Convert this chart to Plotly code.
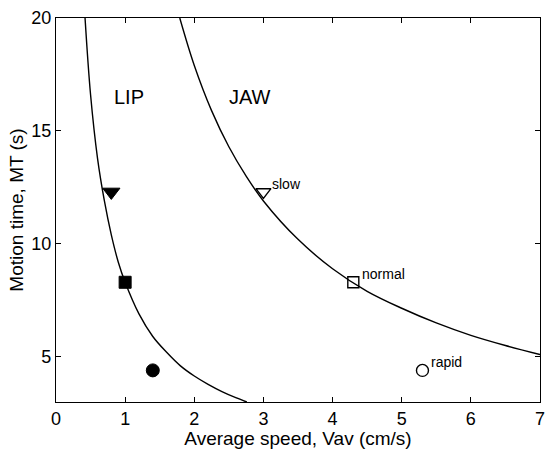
import plotly.graph_objects as go

# Curve points
lip_x = [0.42, 0.5, 0.6, 0.7, 0.8, 0.9, 1.0, 1.2, 1.4, 1.6, 1.8, 2.0, 2.2, 2.4, 2.6, 2.76]
lip_y = [20.0, 16.6, 13.8, 11.9, 10.4, 9.2, 8.3, 6.9, 5.9, 5.2, 4.6, 4.15, 3.78, 3.46, 3.19, 3.0]
jaw_x = [1.79, 2.0, 2.25, 2.5, 2.75, 3.0, 3.5, 4.0, 4.5, 5.0, 5.5, 6.0, 6.5, 7.0]
jaw_y = [20.0, 17.9, 15.9, 14.3, 13.0, 11.9, 10.2, 8.9, 7.9, 7.15, 6.5, 5.95, 5.5, 5.1]

# Measured points
lip_pts_x = [0.8, 1.0, 1.4]
lip_pts_y = [12.3, 8.3, 4.4]
jaw_pts_x = [3.0, 4.3, 5.3]
jaw_pts_y = [12.3, 8.3, 4.4]
pt_labels = ["slow", "normal", "rapid"]

x_ticks = [0, 1, 2, 3, 4, 5, 6, 7]
y_ticks = [5, 10, 15, 20]

font = "Liberation Sans, Arial, sans-serif"
BLACK = "#000000"

fig = go.Figure()
fig.add_trace(go.Scatter(x=lip_x, y=lip_y, mode="lines", line=dict(color=BLACK, width=1.4, shape="spline")))
fig.add_trace(go.Scatter(x=jaw_x, y=jaw_y, mode="lines", line=dict(color=BLACK, width=1.4, shape="spline")))

fig.add_trace(go.Scatter(x=lip_pts_x, y=lip_pts_y, mode="markers",
                         marker=dict(symbol=["triangle-down", "square", "circle"], size=[15, 12, 13],
                                     color=BLACK, opacity=1, line=dict(width=1, color=BLACK))))
fig.add_trace(go.Scatter(x=jaw_pts_x, y=jaw_pts_y, mode="markers",
                         marker=dict(symbol=["triangle-down-open", "square-open", "circle-open"], size=[13, 11, 12],
                                     color=BLACK, opacity=1, line=dict(width=1.4, color=BLACK))))

for x, y, t in zip(jaw_pts_x, jaw_pts_y, pt_labels):
    fig.add_annotation(x=x, y=y, text=t, showarrow=False, xanchor="left", yanchor="middle",
                       xshift=7, yshift=8, font=dict(family=font, size=14, color=BLACK))

fig.add_annotation(x=1.05, y=16.5, text="LIP", showarrow=False, font=dict(family=font, size=20, color=BLACK))
fig.add_annotation(x=2.8, y=16.5, text="JAW", showarrow=False, font=dict(family=font, size=20, color=BLACK))

axis_common = dict(showgrid=False, zeroline=False, showline=True, linecolor=BLACK, linewidth=1.4,
                   mirror="ticks", ticks="inside", ticklen=5, tickcolor=BLACK, tickwidth=1,
                   tickfont=dict(family=font, size=18, color=BLACK))
fig.update_xaxes(range=[0, 7], tickvals=x_ticks, ticklabeloverflow="allow",
                 title=dict(text="Average speed, Vav (cm/s)", standoff=0,
                            font=dict(family=font, size=19, color=BLACK)), **axis_common)
fig.update_yaxes(range=[3, 20], tickvals=y_ticks,
                 title=dict(text="Motion time, MT (s)", standoff=2,
                            font=dict(family=font, size=19, color=BLACK)), **axis_common)

fig.update_layout(width=547, height=449, margin=dict(l=56, r=2, t=18, b=47),
                  paper_bgcolor="white", plot_bgcolor="white", showlegend=False)

fig.write_html("out.html")
